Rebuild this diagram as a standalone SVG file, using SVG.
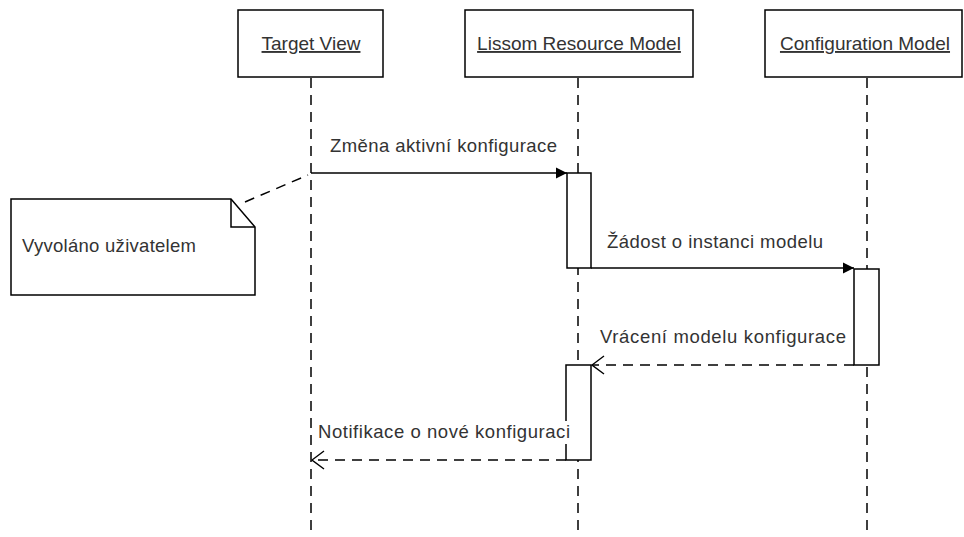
<svg xmlns="http://www.w3.org/2000/svg" width="964" height="537" viewBox="0 0 964 537">
  <style>
    .box { fill: #ffffff; stroke: #000000; stroke-width: 1.5; }
    .life { stroke: #000000; stroke-width: 1.5; stroke-dasharray: 10 7; fill: none; }
    .act { fill: #ffffff; stroke: #000000; stroke-width: 1.5; }
    .msg { stroke: #000000; stroke-width: 1.5; fill: none; }
    .ret { stroke: #000000; stroke-width: 1.5; fill: none; stroke-dasharray: 10 7; }
    .head { font-family: "Liberation Sans", Arial, sans-serif; font-size: 19px; fill: #333333; text-anchor: middle; text-decoration: underline; }
    .lbl { font-family: "Liberation Sans", Arial, sans-serif; font-size: 18.5px; fill: #333333; }
  </style>
  <defs>
    <marker id="filled" viewBox="0 0 11 12" refX="11" refY="6" markerWidth="11" markerHeight="12" markerUnits="userSpaceOnUse" orient="auto">
      <path d="M0,0.5 L11,6 L0,11.5 Z" fill="#000000"/>
    </marker>
    <!-- open arrowhead for return messages, tip at the line end -->
    <marker id="open" viewBox="0 0 14 20" refX="13" refY="10" markerWidth="14" markerHeight="20" markerUnits="userSpaceOnUse" orient="auto">
      <path d="M1,1 L13,10 L1,19" fill="none" stroke="#000000" stroke-width="1.4"/>
    </marker>
  </defs>

  <!-- lifelines -->
  <g id="lifelines">
    <line class="life" x1="311" y1="78" x2="311" y2="537"/>
    <line class="life" x1="578" y1="78" x2="578" y2="537"/>
    <line class="life" x1="867" y1="78" x2="867" y2="537"/>
  </g>

  <!-- participants -->
  <g id="target-view">
    <rect class="box" x="238" y="10" width="145" height="67"/>
    <text class="head" x="311" y="50">Target View</text>
  </g>
  <g id="lissom-resource-model">
    <rect class="box" x="465" y="10" width="228" height="67"/>
    <text class="head" x="579" y="50">Lissom Resource Model</text>
  </g>
  <g id="configuration-model">
    <rect class="box" x="765" y="10" width="197" height="67"/>
    <text class="head" x="865" y="50">Configuration Model</text>
  </g>

  <!-- activation bars -->
  <g id="activations">
    <rect class="act" x="567" y="173" width="24" height="95"/>
    <rect class="act" x="854" y="269" width="25" height="96"/>
    <rect class="act" x="566" y="365" width="25" height="95"/>
  </g>

  <!-- note -->
  <g id="note">
    <path class="box" d="M11,199 L231,199 L255,227 L255,295 L11,295 Z"/>
    <path d="M231,199 L231,227 L255,227" fill="none" stroke="#000000" stroke-width="1.5"/>
    <text class="lbl" x="22" y="252" textLength="174">Vyvoláno uživatelem</text>
  </g>

  <!-- connectors -->
  <g id="connectors">
    <line x1="245" y1="202" x2="308" y2="175" stroke="#000000" stroke-width="1.5" stroke-dasharray="10 7"/>

    <line class="msg" x1="311" y1="173" x2="567" y2="173" marker-end="url(#filled)"/>
    <text class="lbl" x="330" y="152" textLength="227">Změna aktivní konfigurace</text>

    <line class="msg" x1="591" y1="268" x2="854" y2="268" marker-end="url(#filled)"/>
    <text class="lbl" x="607" y="248" textLength="216">Žádost o instanci modelu</text>

    <line class="ret" x1="854" y1="365" x2="592" y2="365" marker-end="url(#open)"/>
    <rect x="598" y="327" width="250" height="22" fill="#ffffff"/>
    <text class="lbl" x="600" y="343" textLength="246">Vrácení modelu konfigurace</text>

    <line class="ret" x1="566" y1="460" x2="312" y2="460" marker-end="url(#open)"/>
    <rect x="316" y="421" width="256" height="23" fill="#ffffff"/>
    <text class="lbl" x="318" y="438" textLength="252">Notifikace o nové konfiguraci</text>
  </g>
</svg>
